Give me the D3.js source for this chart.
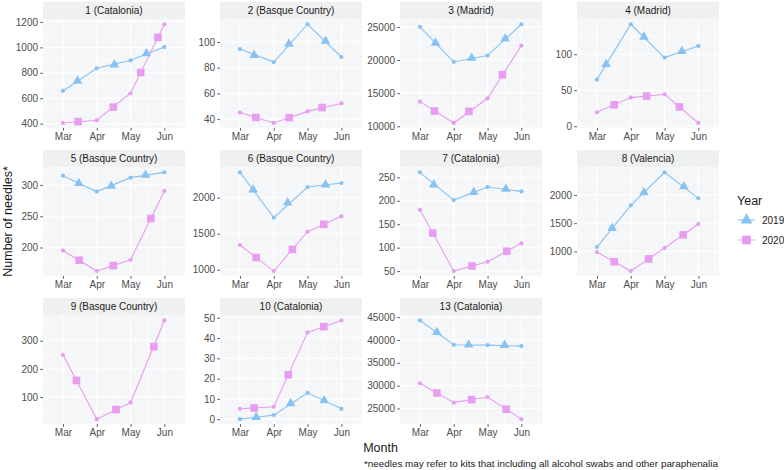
<!DOCTYPE html>
<html><head><meta charset="utf-8">
<script src="https://cdn.jsdelivr.net/npm/d3@7"></script>
<style>body{margin:0;background:#fff} text{font-family:"Liberation Sans",Arial,Helvetica,sans-serif}</style>
</head><body><svg id="c" width="784" height="470"></svg>
<script>
const panelTitles = ["1 (Catalonia)","2 (Basque Country)","3 (Madrid)","4 (Madrid)",
  "5 (Basque Country)","6 (Basque Country)","7 (Catalonia)","8 (Valencia)",
  "9 (Basque Country)","10 (Catalonia)","13 (Catalonia)"];
const months = ["Mar","Apr","May","Jun"];
const years = ["2019","2020"];
// monthly values (Mar, Apr, May, Jun)
const values2019 = [
  [657,835,898,1003],[94.5,84.4,113.8,88.3],[25000,19713,20670,25403],[64.8,141.7,95.4,111.6],
  [314.9,289.4,311.7,320.2],[2352,1722,2148,2204],[260.7,201.4,229.3,220],[1077,1817,2402,1941],
  null,[0,2,13,5.1],[44270,38942,38869,38650]];
const values2020 = [
  [405,426,639,1182],[45.2,37.0,46.0,52.2],[13721,10498,14225,22180],[19.4,39.8,44.4,4.6],
  [195.2,162.3,180.3,290.4],[1343,981,1528,1741],[180.7,50,70,109.3],[988,651,1059,1485],
  [250.3,21.9,81,372],[5.1,6.1,42.8,48.7],[30511,26277,27518,22664]];
// large marker positions (months after Mar) and values
const markerPos2019 = [[0.43,1.52,2.47],[0.42,1.45,2.53],[0.46,1.53,2.52],[0.27,1.39,2.51],
  [0.47,1.43,2.44],[0.39,1.41,2.53],[0.41,1.59,2.54],[0.45,1.39,2.57],[],[0.48,1.5,2.49],[0.5,1.44,2.5]];
const markerVal2019 = [[736,864,951],[89.6,98.5,100.8],[22583,20300,23200],[86,124.1,104.2],
  [302.7,298.4,316],[2110,1931,2180],[234.3,218,225],[1410,2045,2150],[],[1.0,7.8,9.2],[41700,38942,38869]];
const markerPos2020 = [[0.45,1.49,2.3,2.81],[0.47,1.46,2.43],[0.43,1.45,2.44],[0.51,1.47,2.44],
  [0.48,1.49,2.6],[0.48,1.55,2.48],[0.38,1.54,2.57],[0.51,1.53,2.55],[0.40,1.57,2.69],[0.42,1.43,2.48],[0.5,1.53,2.55]];
const markerVal2020 = [[416,530,802,1079],[41.3,41.2,49.0],[12300,12250,17780],[29.8,42,26.9],
  [179.6,171.1,246.4],[1169,1282,1630],[131,60.8,92.4],[816,867,1293],[159,56,279],[5.5,21.9,45.6],[28394,26935,24848]];
const yTicks = [[400,600,800,1000,1200],[40,60,80,100],[10000,15000,20000,25000],[0,50,100],
  [200,250,300],[1000,1500,2000],[50,100,150,200,250],[1000,1500,2000],[100,200,300],
  [0,10,20,30,40,50],[25000,30000,35000,40000,45000]];

const colors = {"2019":"#87c2f3","2020":"#e89df1"};
const colLeft = [43,220,400,577], panelW = 142;
const stripTop = [1.8,149.9,298], stripH = 17.5, panelH = 108.6;

const svg = d3.select("#c");
const tri = d3.symbol().type(d3.symbolTriangle).size(40);
const sq = d3.symbol().type(d3.symbolSquare).size(58);

panelTitles.forEach((title,i)=>{
  const col=i%4,row=Math.floor(i/4);
  const x0=colLeft[col], y0=stripTop[row]+stripH;
  const x=d3.scaleLinear().domain([-0.59,3.61]).range([x0,x0+panelW]);
  const all=[].concat(values2019[i]||[],values2020[i]);
  const [mn,mx]=d3.extent(all), pad=(mx-mn)*0.05;
  const y=d3.scaleLinear().domain([mn-pad,mx+pad]).range([y0+panelH,y0]);
  const g=svg.append("g");
  g.append("rect").attr("x",x0).attr("y",stripTop[row]).attr("width",panelW).attr("height",stripH).attr("fill","#eff0f0");
  g.append("text").attr("x",x0+panelW/2).attr("y",stripTop[row]+stripH/2+3.5).attr("text-anchor","middle")
    .attr("font-size",10).attr("fill","#1a1a1a").text(title);
  g.append("rect").attr("x",x0).attr("y",y0).attr("width",panelW).attr("height",panelH).attr("fill","#f4f6f8");
  // minor grid
  const t=yTicks[i], step=t[1]-t[0], dom=y.domain();
  const minorY=[]; for(let v=t[0]-step/2; v<=dom[1]; v+=step){ if(v>=dom[0]) minorY.push(v); }
  g.selectAll(null).data(minorY).enter().append("line").attr("x1",x0).attr("x2",x0+panelW)
    .attr("y1",d=>y(d)).attr("y2",d=>y(d)).attr("stroke","#fff").attr("stroke-width",0.55);
  g.selectAll(null).data([-0.5,0.5,1.5,2.5,3.5]).enter().append("line").attr("y1",y0).attr("y2",y0+panelH)
    .attr("x1",d=>x(d)).attr("x2",d=>x(d)).attr("stroke","#fff").attr("stroke-width",0.55);
  g.selectAll(null).data(t).enter().append("line").attr("x1",x0).attr("x2",x0+panelW)
    .attr("y1",d=>y(d)).attr("y2",d=>y(d)).attr("stroke","#fff").attr("stroke-width",1.1);
  g.selectAll(null).data([0,1,2,3]).enter().append("line").attr("y1",y0).attr("y2",y0+panelH)
    .attr("x1",d=>x(d)).attr("x2",d=>x(d)).attr("stroke","#fff").attr("stroke-width",1.1);
  // axes
  const ya=g.append("g").attr("transform",`translate(${x0},0)`)
    .call(d3.axisLeft(y).tickValues(t).tickSize(2.75).tickPadding(2.2).tickFormat(d3.format("d")));
  const xa=g.append("g").attr("transform",`translate(0,${y0+panelH})`)
    .call(d3.axisBottom(x).tickValues([0,1,2,3]).tickSize(2.75).tickPadding(2.2).tickFormat(d=>months[d]));
  [ya,xa].forEach(a=>{a.select(".domain").remove();
    a.selectAll(".tick line").attr("stroke","#333").attr("stroke-width",0.8);
    a.selectAll(".tick text").attr("fill","#4d4d4d").attr("font-size",10).attr("font-family","Liberation Sans, Arial, sans-serif");});
  // series
  const line=d3.line().x((d,j)=>x(j)).y(d=>y(d));
  const series=[["2019",values2019[i],markerPos2019[i],markerVal2019[i],tri],
                ["2020",values2020[i],markerPos2020[i],markerVal2020[i],sq]];
  series.forEach(([yr,vals])=>{ if(!vals) return;
    g.append("path").attr("d",line(vals)).attr("fill","none").attr("stroke",colors[yr]).attr("stroke-width",1.1);});
  series.forEach(([yr,vals,mp,mv,sym])=>{ if(!vals) return;
    g.selectAll(null).data(vals).enter().append("circle").attr("cx",(d,j)=>x(j)).attr("cy",d=>y(d)).attr("r",2.1).attr("fill",colors[yr]);
    g.selectAll(null).data(mp).enter().append("path").attr("d",sym)
      .attr("transform",(d,j)=>`translate(${x(d)},${y(mv[j])})`).attr("fill",colors[yr]);
  });
});

// axis titles
svg.append("text").attr("x",380.5).attr("y",452).attr("text-anchor","middle").attr("font-size",12.5).attr("fill","#1a1a1a").text("Month");
svg.append("text").attr("transform","translate(12,221.5) rotate(-90)").attr("text-anchor","middle").attr("font-size",12.5).attr("fill","#1a1a1a").text("Number of needles*");
svg.append("text").attr("x",718).attr("y",467).attr("text-anchor","end").attr("font-size",9.9).attr("fill","#1a1a1a")
  .text("*needles may refer to kits that including all alcohol swabs and other paraphenalia");

// legend
const lg=svg.append("g");
lg.append("text").attr("x",737).attr("y",204.5).attr("font-size",12.5).attr("fill","#1a1a1a").text("Year");
years.forEach((yr,k)=>{
  const cy=220+k*20;
  lg.append("line").attr("x1",738).attr("x2",755).attr("y1",cy).attr("y2",cy).attr("stroke",colors[yr]).attr("stroke-width",1.1);
  lg.append("path").attr("d",(k===0?d3.symbol().type(d3.symbolTriangle).size(60):d3.symbol().type(d3.symbolSquare).size(75))())
    .attr("transform",`translate(746.5,${cy})`).attr("fill",colors[yr]);
  lg.append("text").attr("x",762).attr("y",cy+3.5).attr("font-size",10).attr("fill","#1a1a1a").text(yr);
});
</script></body></html>
